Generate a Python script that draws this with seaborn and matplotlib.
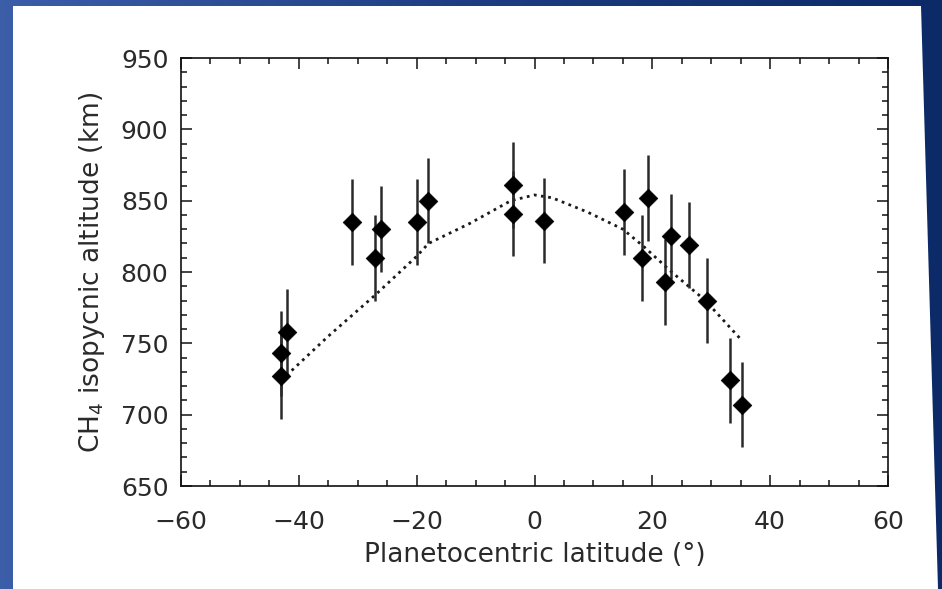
import numpy as np
import pandas as pd
import matplotlib
matplotlib.use("Agg")
import matplotlib.pyplot as plt
from matplotlib.ticker import MultipleLocator
from matplotlib.patches import Polygon
import seaborn as sns

# Measured CH4 isopycnic altitudes
latitude = [-43, -43, -42, -31, -27, -26, -20, -18, -3.6, -3.6, 1.6,
            15.2, 19.2, 18.2, 23.2, 22.2, 26.2, 29.2, 33.2, 35.2]
altitude = [743, 727, 758, 835, 810, 830, 835, 850, 861, 841, 836,
            842, 852, 810, 825, 793, 819, 780, 724, 707]
alt_err = [30] * len(latitude)

# Model curve
model_lat = [-43, -35, -27, -20, -18, -11, -4, 0, 3, 9, 15, 18.5, 23, 29, 35.2]
model_alt = [724, 755, 784, 811, 820, 834, 850, 854, 852, 842, 830, 818, 801, 780, 752]

x_ticks = [-60, -40, -20, 0, 20, 40, 60]
y_ticks = [650, 700, 750, 800, 850, 900, 950]

sns.set_theme(style="white")
plt.rcParams["font.family"] = ["DejaVu Sans"]

W, H = 942, 589
fig = plt.figure(figsize=(W / 100, H / 100), dpi=100)

# Slide background: blue gradient with a white panel
bg = fig.add_axes([0, 0, 1, 1], zorder=-10)
grad = np.linspace(0, 1, 256)[None, :]
cmap = matplotlib.colors.LinearSegmentedColormap.from_list(
    "slide", ["#3c5ea9", "#1d3c82", "#0c2a68"])
bg.imshow(grad, aspect="auto", cmap=cmap, extent=[0, W, H, 0])
bg.add_patch(Polygon([[13, 6], [921, 6], [938, H], [13, H]],
                     closed=True, facecolor="white", edgecolor="none"))
bg.set_xlim(0, W)
bg.set_ylim(H, 0)
bg.axis("off")

ax = fig.add_axes([181 / W, 1 - 486 / H, 707 / W, 428 / H])
ax.set_facecolor("none")

df = pd.DataFrame({"lat": latitude, "alt": altitude, "err": alt_err})
model = pd.DataFrame({"lat": model_lat, "alt": model_alt})

sns.lineplot(data=model, x="lat", y="alt", ax=ax, color="#1a1a1a",
             linestyle=(0, (1, 1.6)), linewidth=2.0, sort=False, zorder=2)
ax.errorbar(df["lat"], df["alt"], yerr=df["err"], fmt="none",
            ecolor="#2a2a2a", elinewidth=1.8, capsize=0, zorder=3)
sns.scatterplot(data=df, x="lat", y="alt", ax=ax, marker="D", s=90,
                color="black", edgecolor="black", linewidth=0.5, zorder=4)

ax.set_xlim(-60, 60)
ax.set_ylim(650, 950)
ax.set_xticks(x_ticks)
ax.set_yticks(y_ticks)
ax.set_xticklabels([("\u2212" + str(abs(v))) if v < 0 else str(v) for v in x_ticks])
ax.set_yticklabels([str(v) for v in y_ticks])
ax.xaxis.set_minor_locator(MultipleLocator(5))
ax.yaxis.set_minor_locator(MultipleLocator(10))
ax.tick_params(which="both", direction="in", top=True, right=True,
               bottom=True, left=True, color="#111111", width=1.1,
               labelsize=18, labelcolor="#2a2a2a")
ax.tick_params(which="major", length=8)
ax.tick_params(axis="y", which="major", pad=9)
ax.tick_params(axis="x", which="major", pad=17)
ax.tick_params(which="minor", length=4)
for s in ax.spines.values():
    s.set_visible(True)
    s.set_color("#111111")
    s.set_linewidth(1.2)

ax.set_xlabel("Planetocentric latitude (\u00b0)", fontsize=19, color="#2a2a2a",
              labelpad=6)
ax.set_ylabel(r"CH$_4$ isopycnic altitude (km)", fontsize=19, color="#2a2a2a",
              labelpad=10)

fig.savefig("out.png", dpi=100)
